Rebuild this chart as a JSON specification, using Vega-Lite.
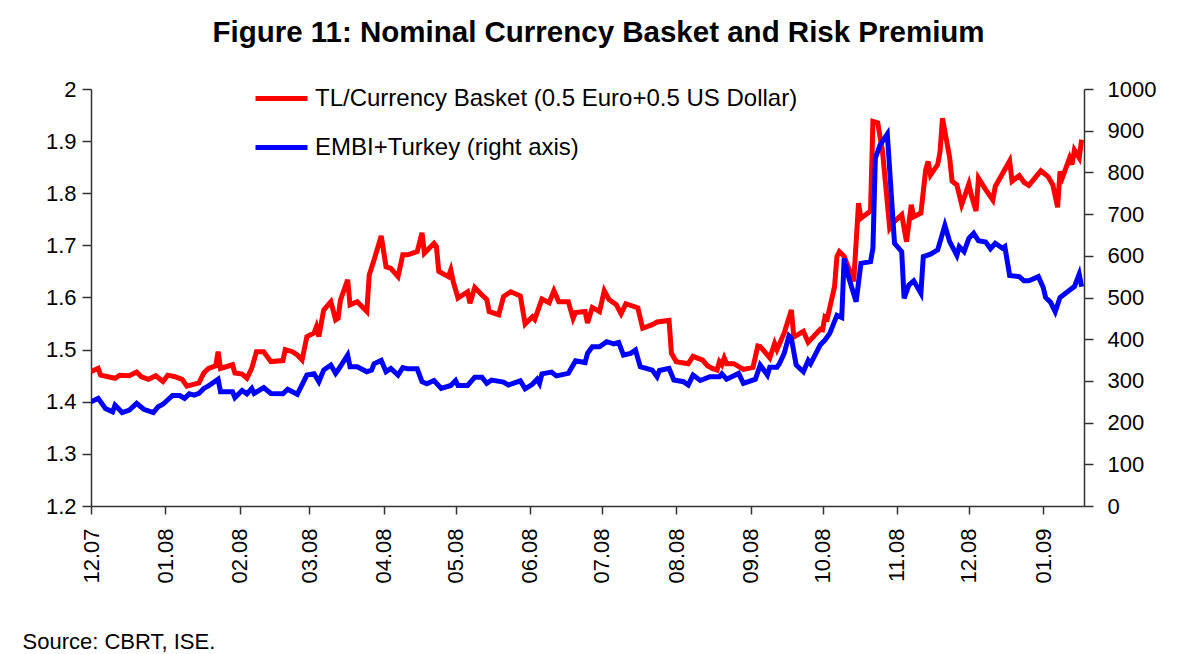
{
  "$schema": "https://vega.github.io/schema/vega-lite/v6.json",
  "width": 993,
  "height": 417,
  "autosize": {"type": "none"},
  "padding": {"left": 91, "top": 89, "right": 98, "bottom": 148},
  "background": "white",
  "title": {
    "text": "Figure 11: Nominal Currency Basket and Risk Premium",
    "font": "Liberation Sans",
    "fontSize": 29.5,
    "fontWeight": "bold",
    "color": "#000000",
    "anchor": "middle",
    "frame": "group",
    "dx": 11,
    "offset": 22
  },
  "datasets": {
    "basket": [
      {"date": "2007-12-01", "value": 1.458},
      {"date": "2007-12-04", "value": 1.464},
      {"date": "2007-12-05", "value": 1.451},
      {"date": "2007-12-11", "value": 1.445},
      {"date": "2007-12-13", "value": 1.451},
      {"date": "2007-12-17", "value": 1.450},
      {"date": "2007-12-20", "value": 1.457},
      {"date": "2007-12-22", "value": 1.448},
      {"date": "2007-12-25", "value": 1.443},
      {"date": "2007-12-28", "value": 1.450},
      {"date": "2007-12-31", "value": 1.439},
      {"date": "2008-01-02", "value": 1.451},
      {"date": "2008-01-05", "value": 1.448},
      {"date": "2008-01-08", "value": 1.443},
      {"date": "2008-01-10", "value": 1.430},
      {"date": "2008-01-15", "value": 1.436},
      {"date": "2008-01-17", "value": 1.455},
      {"date": "2008-01-19", "value": 1.464},
      {"date": "2008-01-22", "value": 1.469},
      {"date": "2008-01-23", "value": 1.496},
      {"date": "2008-01-24", "value": 1.464},
      {"date": "2008-01-29", "value": 1.471},
      {"date": "2008-01-30", "value": 1.455},
      {"date": "2008-02-02", "value": 1.453},
      {"date": "2008-02-04", "value": 1.445},
      {"date": "2008-02-06", "value": 1.464},
      {"date": "2008-02-08", "value": 1.496},
      {"date": "2008-02-11", "value": 1.496},
      {"date": "2008-02-14", "value": 1.477},
      {"date": "2008-02-19", "value": 1.479},
      {"date": "2008-02-20", "value": 1.500},
      {"date": "2008-02-23", "value": 1.496},
      {"date": "2008-02-25", "value": 1.490},
      {"date": "2008-02-27", "value": 1.480},
      {"date": "2008-02-29", "value": 1.525},
      {"date": "2008-03-03", "value": 1.532},
      {"date": "2008-03-04", "value": 1.544},
      {"date": "2008-03-05", "value": 1.525},
      {"date": "2008-03-07", "value": 1.576},
      {"date": "2008-03-10", "value": 1.592},
      {"date": "2008-03-12", "value": 1.557},
      {"date": "2008-03-13", "value": 1.560},
      {"date": "2008-03-14", "value": 1.595},
      {"date": "2008-03-17", "value": 1.634},
      {"date": "2008-03-18", "value": 1.586},
      {"date": "2008-03-21", "value": 1.592},
      {"date": "2008-03-25", "value": 1.573},
      {"date": "2008-03-26", "value": 1.643},
      {"date": "2008-03-28", "value": 1.672},
      {"date": "2008-03-31", "value": 1.718},
      {"date": "2008-04-02", "value": 1.659},
      {"date": "2008-04-04", "value": 1.656},
      {"date": "2008-04-07", "value": 1.640},
      {"date": "2008-04-09", "value": 1.682},
      {"date": "2008-04-11", "value": 1.682},
      {"date": "2008-04-15", "value": 1.688},
      {"date": "2008-04-17", "value": 1.724},
      {"date": "2008-04-18", "value": 1.685},
      {"date": "2008-04-22", "value": 1.704},
      {"date": "2008-04-23", "value": 1.698},
      {"date": "2008-04-24", "value": 1.650},
      {"date": "2008-04-28", "value": 1.640},
      {"date": "2008-04-29", "value": 1.653},
      {"date": "2008-04-30", "value": 1.631},
      {"date": "2008-05-02", "value": 1.599},
      {"date": "2008-05-06", "value": 1.611},
      {"date": "2008-05-07", "value": 1.589},
      {"date": "2008-05-09", "value": 1.619},
      {"date": "2008-05-12", "value": 1.605},
      {"date": "2008-05-14", "value": 1.596},
      {"date": "2008-05-15", "value": 1.573},
      {"date": "2008-05-19", "value": 1.567},
      {"date": "2008-05-21", "value": 1.602},
      {"date": "2008-05-24", "value": 1.611},
      {"date": "2008-05-28", "value": 1.603},
      {"date": "2008-05-30", "value": 1.549},
      {"date": "2008-06-02", "value": 1.563},
      {"date": "2008-06-03", "value": 1.558},
      {"date": "2008-06-06", "value": 1.597},
      {"date": "2008-06-09", "value": 1.590},
      {"date": "2008-06-11", "value": 1.613},
      {"date": "2008-06-13", "value": 1.592},
      {"date": "2008-06-17", "value": 1.592},
      {"date": "2008-06-19", "value": 1.560},
      {"date": "2008-06-20", "value": 1.571},
      {"date": "2008-06-24", "value": 1.573},
      {"date": "2008-06-25", "value": 1.551},
      {"date": "2008-06-27", "value": 1.581},
      {"date": "2008-06-30", "value": 1.573},
      {"date": "2008-07-02", "value": 1.613},
      {"date": "2008-07-04", "value": 1.596},
      {"date": "2008-07-07", "value": 1.586},
      {"date": "2008-07-09", "value": 1.569},
      {"date": "2008-07-11", "value": 1.588},
      {"date": "2008-07-16", "value": 1.580},
      {"date": "2008-07-18", "value": 1.541},
      {"date": "2008-07-22", "value": 1.548},
      {"date": "2008-07-24", "value": 1.553},
      {"date": "2008-07-29", "value": 1.556},
      {"date": "2008-07-30", "value": 1.493},
      {"date": "2008-08-01", "value": 1.477},
      {"date": "2008-08-06", "value": 1.473},
      {"date": "2008-08-08", "value": 1.487},
      {"date": "2008-08-12", "value": 1.480},
      {"date": "2008-08-14", "value": 1.469},
      {"date": "2008-08-16", "value": 1.464},
      {"date": "2008-08-18", "value": 1.461},
      {"date": "2008-08-19", "value": 1.477},
      {"date": "2008-08-20", "value": 1.471},
      {"date": "2008-08-21", "value": 1.484},
      {"date": "2008-08-22", "value": 1.473},
      {"date": "2008-08-25", "value": 1.473},
      {"date": "2008-08-29", "value": 1.462},
      {"date": "2008-09-02", "value": 1.466},
      {"date": "2008-09-04", "value": 1.507},
      {"date": "2008-09-05", "value": 1.506},
      {"date": "2008-09-09", "value": 1.484},
      {"date": "2008-09-11", "value": 1.512},
      {"date": "2008-09-12", "value": 1.500},
      {"date": "2008-09-15", "value": 1.532},
      {"date": "2008-09-18", "value": 1.576},
      {"date": "2008-09-19", "value": 1.524},
      {"date": "2008-09-23", "value": 1.535},
      {"date": "2008-09-25", "value": 1.514},
      {"date": "2008-09-30", "value": 1.539},
      {"date": "2008-10-01", "value": 1.538},
      {"date": "2008-10-02", "value": 1.563},
      {"date": "2008-10-03", "value": 1.560},
      {"date": "2008-10-06", "value": 1.621},
      {"date": "2008-10-07", "value": 1.679},
      {"date": "2008-10-08", "value": 1.688},
      {"date": "2008-10-10", "value": 1.679},
      {"date": "2008-10-14", "value": 1.631},
      {"date": "2008-10-16", "value": 1.781},
      {"date": "2008-10-17", "value": 1.752},
      {"date": "2008-10-21", "value": 1.766},
      {"date": "2008-10-22", "value": 1.938},
      {"date": "2008-10-24", "value": 1.935},
      {"date": "2008-10-26", "value": 1.880},
      {"date": "2008-10-29", "value": 1.733},
      {"date": "2008-10-31", "value": 1.746},
      {"date": "2008-11-03", "value": 1.759},
      {"date": "2008-11-05", "value": 1.707},
      {"date": "2008-11-07", "value": 1.778},
      {"date": "2008-11-08", "value": 1.755},
      {"date": "2008-11-11", "value": 1.762},
      {"date": "2008-11-13", "value": 1.845},
      {"date": "2008-11-14", "value": 1.861},
      {"date": "2008-11-15", "value": 1.835},
      {"date": "2008-11-18", "value": 1.855},
      {"date": "2008-11-19", "value": 1.880},
      {"date": "2008-11-20", "value": 1.944},
      {"date": "2008-11-23", "value": 1.868},
      {"date": "2008-11-24", "value": 1.823},
      {"date": "2008-11-26", "value": 1.816},
      {"date": "2008-11-28", "value": 1.778},
      {"date": "2008-12-01", "value": 1.818},
      {"date": "2008-12-02", "value": 1.797},
      {"date": "2008-12-04", "value": 1.766},
      {"date": "2008-12-05", "value": 1.829},
      {"date": "2008-12-08", "value": 1.807},
      {"date": "2008-12-11", "value": 1.787},
      {"date": "2008-12-12", "value": 1.813},
      {"date": "2008-12-18", "value": 1.862},
      {"date": "2008-12-19", "value": 1.823},
      {"date": "2008-12-22", "value": 1.834},
      {"date": "2008-12-24", "value": 1.821},
      {"date": "2008-12-26", "value": 1.815},
      {"date": "2008-12-29", "value": 1.832},
      {"date": "2008-12-31", "value": 1.843},
      {"date": "2009-01-03", "value": 1.832},
      {"date": "2009-01-05", "value": 1.816},
      {"date": "2009-01-07", "value": 1.773},
      {"date": "2009-01-08", "value": 1.842},
      {"date": "2009-01-09", "value": 1.830},
      {"date": "2009-01-12", "value": 1.868},
      {"date": "2009-01-13", "value": 1.855},
      {"date": "2009-01-14", "value": 1.883},
      {"date": "2009-01-16", "value": 1.868},
      {"date": "2009-01-17", "value": 1.903}
    ],
    "embi": [
      {"date": "2007-12-01", "value": 250},
      {"date": "2007-12-04", "value": 258},
      {"date": "2007-12-07", "value": 234},
      {"date": "2007-12-10", "value": 226},
      {"date": "2007-12-11", "value": 242},
      {"date": "2007-12-14", "value": 224},
      {"date": "2007-12-17", "value": 230},
      {"date": "2007-12-20", "value": 246},
      {"date": "2007-12-23", "value": 232},
      {"date": "2007-12-27", "value": 224},
      {"date": "2007-12-29", "value": 238},
      {"date": "2007-12-31", "value": 244},
      {"date": "2008-01-04", "value": 265},
      {"date": "2008-01-07", "value": 265},
      {"date": "2008-01-09", "value": 258},
      {"date": "2008-01-11", "value": 269},
      {"date": "2008-01-13", "value": 266},
      {"date": "2008-01-15", "value": 270},
      {"date": "2008-01-17", "value": 282},
      {"date": "2008-01-19", "value": 288},
      {"date": "2008-01-23", "value": 304},
      {"date": "2008-01-24", "value": 274},
      {"date": "2008-01-29", "value": 274},
      {"date": "2008-01-30", "value": 260},
      {"date": "2008-02-02", "value": 277},
      {"date": "2008-02-04", "value": 269},
      {"date": "2008-02-06", "value": 282},
      {"date": "2008-02-07", "value": 270},
      {"date": "2008-02-11", "value": 284},
      {"date": "2008-02-14", "value": 270},
      {"date": "2008-02-19", "value": 269},
      {"date": "2008-02-21", "value": 280},
      {"date": "2008-02-25", "value": 268},
      {"date": "2008-02-29", "value": 314},
      {"date": "2008-03-03", "value": 317},
      {"date": "2008-03-05", "value": 298},
      {"date": "2008-03-07", "value": 326},
      {"date": "2008-03-10", "value": 338},
      {"date": "2008-03-12", "value": 318},
      {"date": "2008-03-13", "value": 326},
      {"date": "2008-03-17", "value": 362},
      {"date": "2008-03-18", "value": 334},
      {"date": "2008-03-21", "value": 334},
      {"date": "2008-03-25", "value": 322},
      {"date": "2008-03-27", "value": 326},
      {"date": "2008-03-28", "value": 341},
      {"date": "2008-03-31", "value": 349},
      {"date": "2008-04-02", "value": 322},
      {"date": "2008-04-04", "value": 330},
      {"date": "2008-04-07", "value": 314},
      {"date": "2008-04-09", "value": 332},
      {"date": "2008-04-11", "value": 329},
      {"date": "2008-04-15", "value": 329},
      {"date": "2008-04-17", "value": 298},
      {"date": "2008-04-19", "value": 293},
      {"date": "2008-04-22", "value": 301},
      {"date": "2008-04-25", "value": 282},
      {"date": "2008-04-29", "value": 289},
      {"date": "2008-05-01", "value": 301},
      {"date": "2008-05-02", "value": 289},
      {"date": "2008-05-06", "value": 289},
      {"date": "2008-05-09", "value": 309},
      {"date": "2008-05-12", "value": 309},
      {"date": "2008-05-14", "value": 294},
      {"date": "2008-05-16", "value": 302},
      {"date": "2008-05-21", "value": 297},
      {"date": "2008-05-23", "value": 290},
      {"date": "2008-05-28", "value": 300},
      {"date": "2008-05-30", "value": 281},
      {"date": "2008-06-02", "value": 292},
      {"date": "2008-06-04", "value": 304},
      {"date": "2008-06-05", "value": 294},
      {"date": "2008-06-06", "value": 317},
      {"date": "2008-06-10", "value": 321},
      {"date": "2008-06-12", "value": 312},
      {"date": "2008-06-17", "value": 318},
      {"date": "2008-06-18", "value": 328},
      {"date": "2008-06-20", "value": 348},
      {"date": "2008-06-24", "value": 344},
      {"date": "2008-06-25", "value": 366},
      {"date": "2008-06-27", "value": 382},
      {"date": "2008-06-30", "value": 382},
      {"date": "2008-07-03", "value": 394},
      {"date": "2008-07-06", "value": 389},
      {"date": "2008-07-08", "value": 392},
      {"date": "2008-07-10", "value": 362},
      {"date": "2008-07-13", "value": 366},
      {"date": "2008-07-15", "value": 374},
      {"date": "2008-07-17", "value": 334},
      {"date": "2008-07-22", "value": 326},
      {"date": "2008-07-24", "value": 310},
      {"date": "2008-07-25", "value": 325},
      {"date": "2008-07-29", "value": 330},
      {"date": "2008-07-31", "value": 302},
      {"date": "2008-08-04", "value": 298},
      {"date": "2008-08-06", "value": 290},
      {"date": "2008-08-08", "value": 314},
      {"date": "2008-08-11", "value": 301},
      {"date": "2008-08-15", "value": 310},
      {"date": "2008-08-19", "value": 310},
      {"date": "2008-08-20", "value": 317},
      {"date": "2008-08-22", "value": 304},
      {"date": "2008-08-27", "value": 318},
      {"date": "2008-08-29", "value": 294},
      {"date": "2008-09-03", "value": 304},
      {"date": "2008-09-05", "value": 338},
      {"date": "2008-09-08", "value": 314},
      {"date": "2008-09-09", "value": 333},
      {"date": "2008-09-12", "value": 333},
      {"date": "2008-09-13", "value": 341},
      {"date": "2008-09-15", "value": 366},
      {"date": "2008-09-17", "value": 408},
      {"date": "2008-09-18", "value": 402},
      {"date": "2008-09-20", "value": 338},
      {"date": "2008-09-23", "value": 322},
      {"date": "2008-09-25", "value": 349},
      {"date": "2008-09-26", "value": 341},
      {"date": "2008-09-30", "value": 386},
      {"date": "2008-10-02", "value": 398},
      {"date": "2008-10-04", "value": 414},
      {"date": "2008-10-07", "value": 457},
      {"date": "2008-10-09", "value": 452},
      {"date": "2008-10-10", "value": 594},
      {"date": "2008-10-12", "value": 546},
      {"date": "2008-10-15", "value": 490},
      {"date": "2008-10-17", "value": 582},
      {"date": "2008-10-21", "value": 586},
      {"date": "2008-10-22", "value": 618},
      {"date": "2008-10-23", "value": 834},
      {"date": "2008-10-25", "value": 866},
      {"date": "2008-10-28", "value": 892},
      {"date": "2008-10-31", "value": 630},
      {"date": "2008-11-03", "value": 610},
      {"date": "2008-11-04", "value": 498},
      {"date": "2008-11-06", "value": 530},
      {"date": "2008-11-08", "value": 540},
      {"date": "2008-11-11", "value": 510},
      {"date": "2008-11-12", "value": 598},
      {"date": "2008-11-15", "value": 604},
      {"date": "2008-11-18", "value": 614},
      {"date": "2008-11-21", "value": 673},
      {"date": "2008-11-23", "value": 634},
      {"date": "2008-11-26", "value": 601},
      {"date": "2008-11-27", "value": 622},
      {"date": "2008-11-29", "value": 610},
      {"date": "2008-12-01", "value": 642},
      {"date": "2008-12-03", "value": 654},
      {"date": "2008-12-05", "value": 636},
      {"date": "2008-12-08", "value": 633},
      {"date": "2008-12-10", "value": 617},
      {"date": "2008-12-12", "value": 630},
      {"date": "2008-12-15", "value": 618},
      {"date": "2008-12-16", "value": 622},
      {"date": "2008-12-18", "value": 553},
      {"date": "2008-12-22", "value": 550},
      {"date": "2008-12-24", "value": 540},
      {"date": "2008-12-26", "value": 540},
      {"date": "2008-12-30", "value": 550},
      {"date": "2009-01-01", "value": 524},
      {"date": "2009-01-02", "value": 500},
      {"date": "2009-01-04", "value": 489},
      {"date": "2009-01-06", "value": 466},
      {"date": "2009-01-08", "value": 500},
      {"date": "2009-01-11", "value": 513},
      {"date": "2009-01-13", "value": 522},
      {"date": "2009-01-14", "value": 526},
      {"date": "2009-01-16", "value": 556},
      {"date": "2009-01-17", "value": 526}
    ]
  },
  "encoding": {
    "x": {
      "field": "date",
      "type": "temporal",
      "scale": {
        "type": "utc",
        "domain": [
          {"year": 2007, "month": 12, "date": 1, "utc": true},
          {"year": 2009, "month": 1, "date": 18, "utc": true}
        ]
      },
      "axis": {
        "format": "%m.%y",
        "tickCount": {"interval": "month", "step": 1},
        "labelAngle": -90,
        "labelFontSize": 22,
        "labelFont": "Liberation Sans",
        "labelColor": "#000000",
        "labelPadding": 14,
        "labelOverlap": false,
        "labelFlush": false,
        "tickSize": 8,
        "tickColor": "#333333",
        "domainColor": "#333333",
        "domainWidth": 1.5,
        "tickWidth": 1.5,
        "grid": false,
        "title": "Source: CBRT, ISE.",
        "titleFont": "Liberation Sans",
        "titleFontSize": 22,
        "titleFontWeight": "normal",
        "titleColor": "#000000",
        "titleAlign": "left",
        "titleAnchor": "start",
        "titleBaseline": "alphabetic",
        "titleX": -69,
        "titleY": 142
      }
    }
  },
  "layer": [
    {
      "data": {"name": "basket"},
      "mark": {"type": "line", "strokeWidth": 5, "clip": true},
      "encoding": {
        "y": {
          "field": "value",
          "type": "quantitative",
          "scale": {"domain": [1.2, 2], "nice": false, "zero": false},
          "axis": {
            "orient": "left",
            "title": null,
            "values": [1.2, 1.3, 1.4, 1.5, 1.6, 1.7, 1.8, 1.9, 2],
            "format": ".1~f",
            "labelFontSize": 22,
            "labelFont": "Liberation Sans",
            "labelColor": "#000000",
            "labelPadding": 6,
            "tickSize": 9,
            "tickColor": "#333333",
            "domainColor": "#333333",
            "domainWidth": 1.5,
            "tickWidth": 1.5,
            "grid": false
          }
        },
        "color": {
          "datum": "TL/Currency Basket (0.5 Euro+0.5 US Dollar)",
          "type": "nominal",
          "scale": {
            "domain": ["TL/Currency Basket (0.5 Euro+0.5 US Dollar)", "EMBI+Turkey (right axis)"],
            "range": ["#ff0000", "#0000ff"]
          },
          "legend": {
            "title": null,
            "orient": "none",
            "legendX": 162,
            "legendY": -19,
            "symbolType": "stroke",
            "symbolSize": 2704,
            "symbolStrokeWidth": 5,
            "labelFontSize": 24,
            "labelFont": "Liberation Sans",
            "labelColor": "#000000",
            "labelOffset": 5,
            "rowPadding": 8,
            "labelLimit": 800
          }
        }
      }
    },
    {
      "data": {"name": "embi"},
      "mark": {"type": "line", "strokeWidth": 5, "clip": true},
      "encoding": {
        "y": {
          "field": "value",
          "type": "quantitative",
          "scale": {"domain": [0, 1000], "nice": false},
          "axis": {
            "orient": "right",
            "title": null,
            "values": [0, 100, 200, 300, 400, 500, 600, 700, 800, 900, 1000],
            "format": "d",
            "labelFontSize": 22,
            "labelFont": "Liberation Sans",
            "labelColor": "#000000",
            "labelPadding": 14,
            "tickSize": 9,
            "tickColor": "#333333",
            "domainColor": "#333333",
            "domainWidth": 1.5,
            "tickWidth": 1.5,
            "grid": false
          }
        },
        "color": {
          "datum": "EMBI+Turkey (right axis)",
          "type": "nominal"
        }
      }
    }
  ],
  "resolve": {"scale": {"y": "independent"}},
  "config": {
    "view": {"stroke": null},
    "font": "Liberation Sans"
  }
}
